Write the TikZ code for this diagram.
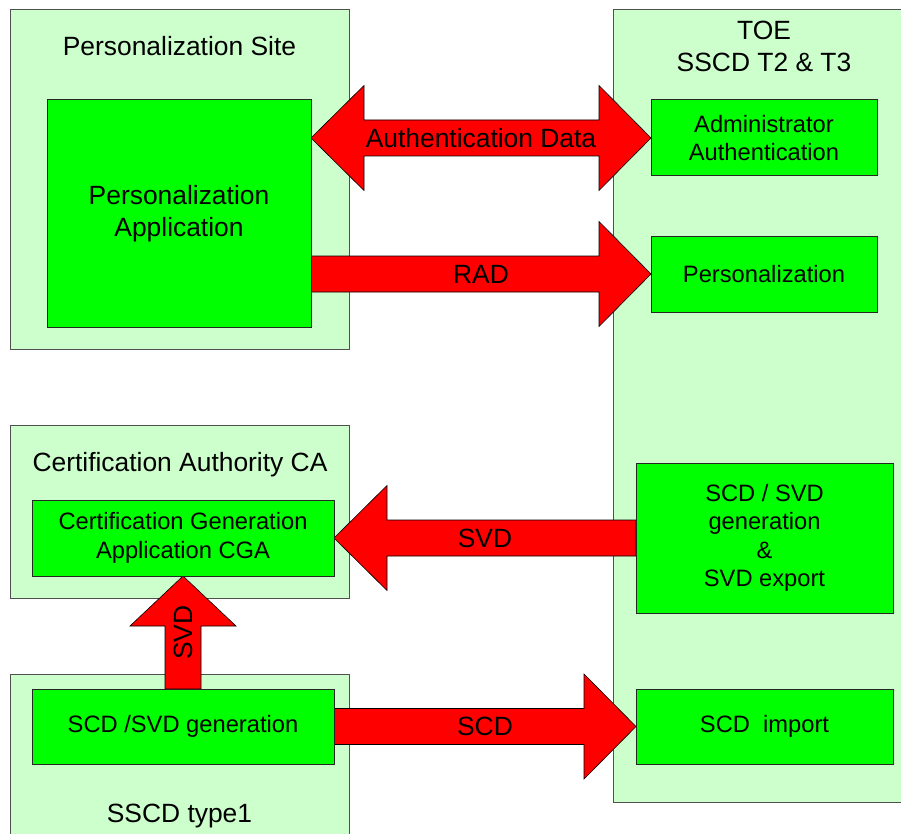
\documentclass[tikz,border=0pt]{standalone}
\usepackage{fontspec}
\setmainfont{Liberation Sans}
\usetikzlibrary{calc}
\definecolor{paleg}{HTML}{CCFFCC}
\definecolor{brightg}{HTML}{00FF00}
\definecolor{arrowred}{HTML}{FF0000}
\definecolor{framegray}{HTML}{505050}

\pgfdeclarelayer{zones}
\pgfdeclarelayer{flows}
\pgfsetlayers{zones,flows,main}

\tikzset{
  zone/.style={draw=framegray, fill=paleg, line width=1pt, inner sep=0pt, outer sep=0pt, anchor=north west},
  unit/.style={draw=black!85, fill=brightg, line width=1pt, inner sep=0pt, outer sep=0pt,
    anchor=north west, align=center, font=\fontsize{23.7}{28.5}\selectfont},
  bigunit/.style={unit, font=\fontsize{26.4}{32}\selectfont},
  heading/.style={font=\fontsize{26.4}{32}\selectfont, anchor=base, inner sep=0pt},
  flow/.style={fill=arrowred, draw=black, line width=0.6pt, line join=miter},
  flowlabel/.style={font=\fontsize{26.4}{32}\selectfont, inner sep=0pt},
}

% block arrows: shaft half width 18, head half width 52.5, head length 52
\newcommand\flowright[3]{%
  \draw[flow] let \p1=(#1), \p2=(#2) in
    (\x1,\y2+18pt) -- (\x2-52pt,\y2+18pt) -- (\x2-52pt,\y2+52.5pt) -- (\x2,\y2)
    -- (\x2-52pt,\y2-52.5pt) -- (\x2-52pt,\y2-18pt) -- (\x1,\y2-18pt) -- cycle;
  \node[flowlabel] at ($(#1)!0.5!(#2)$) {#3};}
\newcommand\flowleft[3]{%
  \draw[flow] let \p1=(#1), \p2=(#2) in
    (\x1,\y2+18pt) -- (\x2+53pt,\y2+18pt) -- (\x2+53pt,\y2+52.5pt) -- (\x2,\y2)
    -- (\x2+53pt,\y2-52.5pt) -- (\x2+53pt,\y2-18pt) -- (\x1,\y2-18pt) -- cycle;
  \node[flowlabel] at ($(#1)!0.5!(#2)$) {#3};}
\newcommand\flowup[3]{%
  \draw[flow] let \p1=(#1), \p2=(#2) in
    (\x2-18pt,\y1) -- (\x2-18pt,\y2-50pt) -- (\x2-53pt,\y2-50pt) -- (\x2,\y2)
    -- (\x2+53pt,\y2-50pt) -- (\x2+18pt,\y2-50pt) -- (\x2+18pt,\y1) -- cycle;
  \node[flowlabel, rotate=90] at ($(#1)!0.5!(#2)$) {#3};}
\newcommand\flowboth[3]{%
  \draw[flow] let \p1=(#1), \p2=(#2) in
    (\x1,\y2) -- (\x1+53pt,\y2+52.5pt) -- (\x1+53pt,\y2+18pt) -- (\x2-52pt,\y2+18pt)
    -- (\x2-52pt,\y2+52.5pt) -- (\x2,\y2) -- (\x2-52pt,\y2-52.5pt) -- (\x2-52pt,\y2-18pt)
    -- (\x1+53pt,\y2-18pt) -- (\x1+53pt,\y2-52.5pt) -- cycle;
  \node[flowlabel] at ($(#1)!0.5!(#2)$) {#3};}

\begin{document}
\begin{tikzpicture}[x=1pt,y=-1pt]
\useasboundingbox (0,0) rectangle (901,834);

\begin{pgfonlayer}{zones}
\fill[white] (0,0) rectangle (901,834);
% surrounding zones
\node[zone, minimum width=339pt, minimum height=339pt] (site) at (10,10) {};
\node[zone, minimum width=302pt, minimum height=792pt] (toe) at (613,10) {};
\node[zone, minimum width=339pt, minimum height=173pt] (ca) at (10,425) {};
\node[zone, minimum width=339pt, minimum height=200pt] (sscd1) at (10,674) {};
\end{pgfonlayer}

% zone titles
\node[heading] (sitetitle) at (179.5,56) {Personalization Site};
\node[heading] (toetitle) at (764,40) {TOE};
\node[heading] (toesub) at (764,72) {SSCD T2 \& T3};
\node[heading] (catitle) at (180,471) {Certification Authority CA};
\node[heading] (sscdtitle) at (179.5,822) {SSCD type1};

% functional units
\node[bigunit, minimum width=264pt, minimum height=227pt] (pa) at (47,100) {Personalization\\Application};
\node[unit, minimum width=226pt, minimum height=76pt] (adm) at (651,100) {Administrator\\Authentication};
\node[unit, minimum width=226pt, minimum height=76pt] (pers) at (651,236) {Personalization};
\node[unit, minimum width=302pt, minimum height=76pt] (cga) at (32,500) {Certification Generation\\Application CGA};
\node[unit, minimum width=257pt, minimum height=150pt] (gen) at (636,463) {SCD / SVD\\generation\\\&\\SVD export};
\node[unit, minimum width=257pt, minimum height=75pt] (imp) at (636,689) {SCD\ \ import};
\node[unit, minimum width=302pt, minimum height=75pt] (gen1) at (32,689) {SCD /SVD generation};

% data flows, kept beneath the units
\coordinate (authtail) at (pa.east |- adm.west);
\coordinate (radtail) at (pa.east |- pers.west);
\begin{pgfonlayer}{flows}
\flowboth{authtail}{adm.west}{Authentication Data}
\flowright{radtail}{pers.west}{RAD}
\flowleft{gen.west}{cga.east}{SVD}
\flowright{gen1.east}{imp.west}{SCD}
\flowup{gen1.north}{cga.south}{SVD}
\end{pgfonlayer}
\end{tikzpicture}
\end{document}
